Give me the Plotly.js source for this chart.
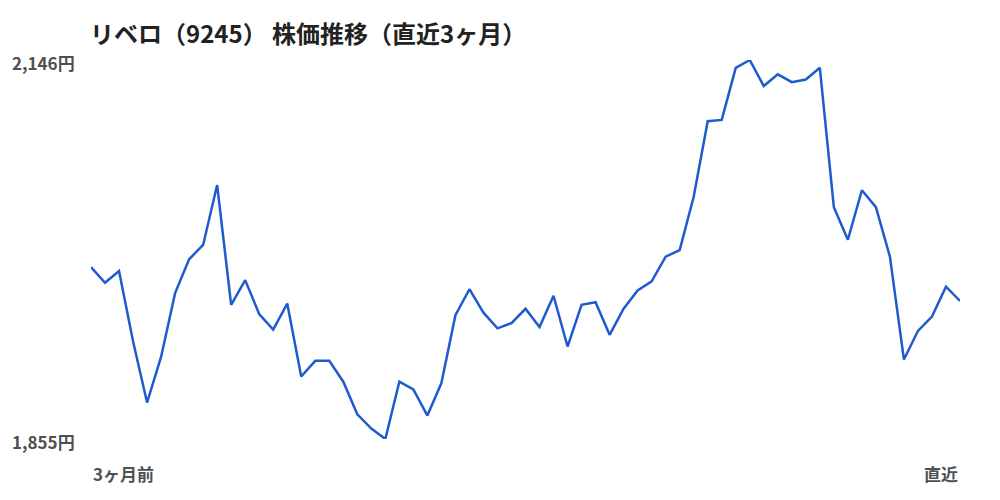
<!DOCTYPE html>
<html>
<head>
<meta charset="utf-8">
<script src="https://cdn.plot.ly/plotly-3.0.1.min.js"></script>
<style>
  html, body { margin: 0; padding: 0; background: #fff; }
  #chart { width: 1000px; height: 500px; }
</style>
</head>
<body>
<div id="chart"></div>
<script>
// 終値（3ヶ月前 → 直近）
var prices = [
    1987, 1975, 1984, 1930, 1883, 1918, 1967, 1993, 2004, 2050,
    1958, 1977, 1951, 1939, 1959, 1903, 1915, 1915, 1899, 1874,
    1863, 1855, 1899, 1893, 1873, 1898, 1950, 1970, 1952, 1940,
    1944, 1955, 1941, 1965, 1926, 1958, 1960, 1935, 1955, 1969,
    1976, 1995, 2000, 2041, 2099, 2100, 2140, 2146, 2126, 2135,
    2129, 2131, 2140, 2033, 2008, 2046, 2033, 1995, 1916, 1938,
    1949, 1972, 1961
];
var titleText = 'リベロ（9245） 株価推移（直近3ヶ月）';
var startLabel = '3ヶ月前';
var endLabel = '直近';

var days = [];
for (var i = 0; i < prices.length; i++) {
    days.push(i);
}

var maxPrice = Math.max.apply(null, prices);
var minPrice = Math.min.apply(null, prices);

function yen(v) {
    return v.toLocaleString('en-US') + '円';
}

var font = '"Noto Sans CJK JP", "Noto Sans", sans-serif';

var data = [
    {
        x: days,
        y: prices,
        type: 'scatter',
        mode: 'lines',
        line: {color: '#1f5bcf', width: 2.5},
        hoverinfo: 'skip'
    }
];

var layout = {
    width: 1000,
    height: 500,
    margin: {l: 91, r: 40, t: 60, b: 61},
    paper_bgcolor: '#ffffff',
    plot_bgcolor: '#ffffff',
    showlegend: false,
    font: {family: font},
    title: {
        text: '<b>' + titleText + '</b>',
        x: 0.09, xref: 'container', xanchor: 'left',
        y: 0.93, yanchor: 'middle',
        font: {family: font, size: 24, color: '#222222'}
    },
    xaxis: {
        range: [0, prices.length - 1],
        showgrid: false, zeroline: false, showline: false,
        showticklabels: false, ticks: ''
    },
    yaxis: {
        range: [minPrice, maxPrice],
        showgrid: false, zeroline: false, showline: false,
        showticklabels: false, ticks: ''
    },
    annotations: [
        {
            text: '<b>' + yen(maxPrice) + '</b>',
            xref: 'paper', yref: 'y', x: 0, y: maxPrice,
            xanchor: 'right', yanchor: 'middle', xshift: -14, yshift: -2,
            showarrow: false,
            font: {family: font, size: 17, color: '#505050'}
        },
        {
            text: '<b>' + yen(minPrice) + '</b>',
            xref: 'paper', yref: 'y', x: 0, y: minPrice,
            xanchor: 'right', yanchor: 'middle', xshift: -14, yshift: -2,
            showarrow: false,
            font: {family: font, size: 17, color: '#505050'}
        },
        {
            text: '<b>' + startLabel + '</b>',
            xref: 'x', yref: 'paper', x: 0, y: 0,
            xanchor: 'left', yanchor: 'top', yshift: -20,
            showarrow: false,
            font: {family: font, size: 17, color: '#505050'}
        },
        {
            text: '<b>' + endLabel + '</b>',
            xref: 'x', yref: 'paper', x: prices.length - 1, y: 0,
            xanchor: 'right', yanchor: 'top', yshift: -20,
            showarrow: false,
            font: {family: font, size: 17, color: '#505050'}
        }
    ]
};

Plotly.newPlot('chart', data, layout, {displayModeBar: false, staticPlot: true});
</script>
</body>
</html>
